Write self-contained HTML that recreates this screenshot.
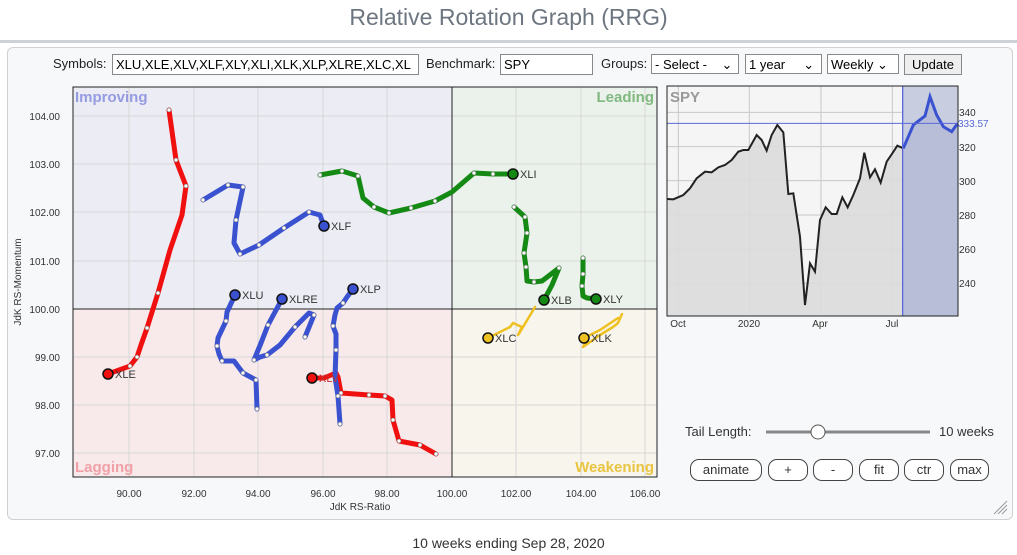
<!DOCTYPE html>
<html><head><style>
body{margin:0;width:1017px;height:555px;background:#fff;font-family:"Liberation Sans",sans-serif;overflow:hidden;position:relative}
.t{position:absolute;white-space:nowrap}
.inp{position:absolute;border:1px solid #888;background:#fff;font-size:13px;height:19px;line-height:19px;padding-left:3px;box-sizing:border-box;overflow:hidden;white-space:nowrap}
.btn{position:absolute;border:1px solid #444;border-radius:9px;background:#fff;font-size:13px;text-align:center;height:22px;line-height:20px;box-sizing:border-box;color:#333}
</style></head><body>
<div class="t" style="left:0;width:1017px;text-align:center;top:4px;font-size:23px;color:#6d7680">Relative Rotation Graph (RRG)</div>
<div style="position:absolute;left:0;top:40px;width:1017px;height:3px;background:#ccd2d8"></div>
<div style="position:absolute;left:7px;top:47px;width:1004px;height:471px;border:1px solid #d0d0d0;border-radius:6px;background:#f7f8f9"></div>
<div class="t" style="left:53px;top:56px;font-size:13px;color:#222">Symbols:</div>
<div class="inp" style="left:112px;top:54px;width:307px;height:21px">XLU,XLE,XLV,XLF,XLY,XLI,XLK,XLP,XLRE,XLC,XL</div>
<div class="t" style="left:426px;top:56px;font-size:13px;color:#222">Benchmark:</div>
<div class="inp" style="left:500px;top:54px;width:93px;height:21px">SPY</div>
<div class="t" style="left:601px;top:56px;font-size:13px;color:#222">Groups:</div>
<div class="inp" style="left:651px;top:54px;width:88px;height:20px">- Select -&nbsp;&nbsp;&nbsp;&nbsp;⌄</div>
<div class="inp" style="left:745px;top:54px;width:77px;height:20px">1 year&nbsp;&nbsp;&nbsp;&nbsp;&nbsp;⌄</div>
<div class="inp" style="left:827px;top:54px;width:72px;height:20px">Weekly ⌄</div>
<div class="inp" style="left:904px;top:54px;width:58px;height:21px;background:#eee;text-align:center;padding:0">Update</div>

<svg style="position:absolute;left:0;top:0" width="1017" height="555">
<rect x="73" y="87" width="379" height="222" fill="#ececf5"/>
<rect x="452" y="87" width="205" height="222" fill="#ebf2eb"/>
<rect x="73" y="309" width="379" height="168" fill="#f8eaea"/>
<rect x="452" y="309" width="205" height="168" fill="#f8f5ed"/>
<g stroke="#d8d8d8" stroke-width="1">
<line x1="129" y1="87" x2="129" y2="477"/><line x1="194" y1="87" x2="194" y2="477"/><line x1="258" y1="87" x2="258" y2="477"/><line x1="323" y1="87" x2="323" y2="477"/><line x1="387" y1="87" x2="387" y2="477"/><line x1="516" y1="87" x2="516" y2="477"/><line x1="581" y1="87" x2="581" y2="477"/><line x1="645" y1="87" x2="645" y2="477"/>
<line x1="73" y1="116" x2="657" y2="116"/><line x1="73" y1="164" x2="657" y2="164"/><line x1="73" y1="212" x2="657" y2="212"/><line x1="73" y1="261" x2="657" y2="261"/><line x1="73" y1="357" x2="657" y2="357"/><line x1="73" y1="405" x2="657" y2="405"/><line x1="73" y1="453" x2="657" y2="453"/>
</g>
<line x1="452" y1="87" x2="452" y2="477" stroke="#222"/>
<line x1="73" y1="309" x2="657" y2="309" stroke="#222"/>
<rect x="73" y="87" width="584" height="390" fill="none" stroke="#222"/>
<g font-size="15" font-weight="bold">
<text x="75" y="102" fill="#959be0">Improving</text>
<text x="654" y="102" fill="#80b880" text-anchor="end">Leading</text>
<text x="75" y="472" fill="#f0a0a6">Lagging</text>
<text x="654" y="472" fill="#e8c440" text-anchor="end">Weakening</text>
</g>
<g font-size="10" fill="#333" text-anchor="end">
<text x="60" y="120">104.00</text><text x="60" y="168">103.00</text><text x="60" y="216">102.00</text><text x="60" y="265">101.00</text><text x="60" y="313">100.00</text><text x="60" y="361">99.00</text><text x="60" y="409">98.00</text><text x="60" y="457">97.00</text>
</g>
<g font-size="10" fill="#333" text-anchor="middle">
<text x="129" y="497">90.00</text><text x="194" y="497">92.00</text><text x="258" y="497">94.00</text><text x="323" y="497">96.00</text><text x="387" y="497">98.00</text><text x="452" y="497">100.00</text><text x="516" y="497">102.00</text><text x="581" y="497">104.00</text><text x="645" y="497">106.00</text>
<text x="360" y="510">JdK RS-Ratio</text>
<text transform="translate(21,282) rotate(-90)">JdK RS-Momentum</text>
</g>
<g fill="none" stroke-linejoin="round" stroke-linecap="round">
<polyline stroke="#f01010" stroke-width="5" points="169,110 176,160 186,186 182,215 170,250 158,293 147,328 141,345 137,357 130,366 108,374"/>
<polyline stroke="#f01010" stroke-width="5" points="436,454 420,445 399,441 393,420 392,400 385,396 369,395 355,394 341,393 338,377 336,373 324,378 312,378"/>
<polyline stroke="#3a52d0" stroke-width="5" points="257,409 256,380 243,373 234,361 222,361 219,354 217,346 218,338 226,321 227,312 235,295"/>
<polyline stroke="#3a52d0" stroke-width="5" points="305,337 314,315 309,313 295,327 280,345 267,355 260,357 254,360 261,343 268,325 282,299"/>
<polyline stroke="#3a52d0" stroke-width="5" points="340,424 338,396 335,377 336,350 336,334 333,326 335,315 337,308 343,303 347,297 353,289"/>
<polyline stroke="#3a52d0" stroke-width="5" points="203,200 228,185 243,187 236,220 234,243 240,254 259,245 284,228 309,212 320,215 324,226"/>
<polyline stroke="#148a14" stroke-width="5" points="320,175 342,171 358,176 363,198 374,207 389,213 411,208 435,201 452,192 474,173 493,174 513,174"/>
<polyline stroke="#148a14" stroke-width="5" points="514,207 525,217 527,233 524,253 526,267 527,281 534,282 542,281 559,268 552,285 544,300"/>
<polyline stroke="#148a14" stroke-width="5" points="583,258 583,274 582,286 583,296 587,298 596,299"/>
<polyline stroke="#eec020" stroke-width="2.5" points="535,307 520,332 518,335 522,327 513,323 510,327 488,338"/>
<polyline stroke="#eec020" stroke-width="2.5" points="622,314 618,323 613,327 600,335 583,347 588,338 584,338 600,330 612,322 618,318"/>
</g>
<g fill="#fff" stroke="#666" stroke-width="0.5">
<circle cx="169" cy="110" r="2"/><circle cx="176" cy="160" r="2"/><circle cx="186" cy="186" r="2"/><circle cx="158" cy="293" r="2"/><circle cx="147" cy="328" r="2"/><circle cx="137" cy="357" r="2"/><circle cx="130" cy="366" r="2"/>
<circle cx="436" cy="454" r="2"/><circle cx="420" cy="445" r="2"/><circle cx="399" cy="441" r="2"/><circle cx="393" cy="420" r="2"/><circle cx="385" cy="396" r="2"/><circle cx="369" cy="395" r="2"/><circle cx="341" cy="393" r="2"/>
<circle cx="257" cy="409" r="2"/><circle cx="256" cy="380" r="2"/><circle cx="243" cy="373" r="2"/><circle cx="222" cy="361" r="2"/><circle cx="217" cy="346" r="2"/><circle cx="226" cy="321" r="2"/>
<circle cx="305" cy="337" r="2"/><circle cx="314" cy="315" r="2"/><circle cx="295" cy="327" r="2"/><circle cx="267" cy="355" r="2"/><circle cx="254" cy="360" r="2"/><circle cx="268" cy="325" r="2"/>
<circle cx="340" cy="424" r="2"/><circle cx="338" cy="396" r="2"/><circle cx="336" cy="350" r="2"/><circle cx="333" cy="326" r="2"/><circle cx="343" cy="303" r="2"/>
<circle cx="203" cy="200" r="2"/><circle cx="228" cy="185" r="2"/><circle cx="243" cy="187" r="2"/><circle cx="236" cy="220" r="2"/><circle cx="240" cy="254" r="2"/><circle cx="259" cy="245" r="2"/><circle cx="284" cy="228" r="2"/><circle cx="309" cy="212" r="2"/>
<circle cx="320" cy="175" r="2"/><circle cx="342" cy="171" r="2"/><circle cx="358" cy="176" r="2"/><circle cx="374" cy="207" r="2"/><circle cx="389" cy="213" r="2"/><circle cx="411" cy="208" r="2"/><circle cx="435" cy="201" r="2"/><circle cx="474" cy="173" r="2"/><circle cx="493" cy="174" r="2"/>
<circle cx="514" cy="207" r="2"/><circle cx="525" cy="217" r="2"/><circle cx="527" cy="233" r="2"/><circle cx="524" cy="253" r="2"/><circle cx="526" cy="267" r="2"/><circle cx="534" cy="282" r="2"/><circle cx="559" cy="268" r="2"/>
<circle cx="583" cy="258" r="2"/><circle cx="583" cy="274" r="2"/><circle cx="582" cy="286" r="2"/>
</g>
<g stroke="#111" stroke-width="1.5">
<circle cx="108" cy="374" r="5" fill="#f01010"/><circle cx="312" cy="378" r="5" fill="#f01010"/>
<circle cx="235" cy="295" r="5" fill="#3a52d0"/><circle cx="282" cy="299" r="5" fill="#3a52d0"/><circle cx="353" cy="289" r="5" fill="#3a52d0"/><circle cx="324" cy="226" r="5" fill="#3a52d0"/>
<circle cx="513" cy="174" r="5" fill="#148a14"/><circle cx="544" cy="300" r="5" fill="#148a14"/><circle cx="596" cy="299" r="5" fill="#148a14"/>
<circle cx="488" cy="338" r="5" fill="#eec020"/><circle cx="584" cy="338" r="5" fill="#eec020"/>
</g>
<g font-size="11" fill="#333">
<text x="115" y="378">XLE</text><text x="319" y="382" fill="#c03030">XLV</text><text x="242" y="299">XLU</text><text x="289" y="303">XLRE</text><text x="360" y="293">XLP</text><text x="331" y="230">XLF</text><text x="520" y="178">XLI</text><text x="551" y="304">XLB</text><text x="603" y="303">XLY</text><text x="495" y="342">XLC</text><text x="591" y="342">XLK</text>
</g>

<!-- SPY panel -->
<rect x="667" y="86" width="291" height="230" fill="#f5f5f5" stroke="#222"/>
<g transform="translate(660,80) scale(0.33333)">
<g stroke="#c8c8c8" stroke-width="3">
<line x1="55" y1="18" x2="55" y2="708"/><line x1="268" y1="18" x2="268" y2="708"/><line x1="483" y1="18" x2="483" y2="708"/><line x1="697" y1="18" x2="697" y2="708"/>
<line x1="22" y1="97" x2="893" y2="97"/><line x1="22" y1="200" x2="893" y2="200"/><line x1="22" y1="302" x2="893" y2="302"/><line x1="22" y1="405" x2="893" y2="405"/><line x1="22" y1="508" x2="893" y2="508"/><line x1="22" y1="610" x2="893" y2="610"/>
</g>
<rect x="728" y="18" width="165" height="690" fill="#c8cde0"/>
<polygon fill="#dcdcdc" fill-opacity="0.9" points="22,357 40,358 70,345 90,325 110,295 135,275 155,277 175,262 195,255 215,240 235,215 250,210 265,210 290,165 305,180 320,212 335,165 352,135 370,157 385,342 400,340 420,470 435,675 450,550 465,575 480,420 497,382 515,402 530,402 547,352 563,382 580,345 600,295 613,218 630,292 645,268 662,308 680,245 697,220 712,197 730,205 730,708 22,708"/>
<polygon fill="#b8bed8" points="730,205 760,135 795,108 810,50 830,105 850,140 875,155 893,130 893,708 730,708"/>
<polyline fill="none" stroke="#222" stroke-width="6" points="22,357 40,358 70,345 90,325 110,295 135,275 155,277 175,262 195,255 215,240 235,215 250,210 265,210 290,165 305,180 320,212 335,165 352,135 370,157 385,342 400,340 420,470 435,675 450,550 465,575 480,420 497,382 515,402 530,402 547,352 563,382 580,345 600,295 613,218 630,292 645,268 662,308 680,245 697,220 712,197 730,205"/>
<polyline fill="none" stroke="#3a52d0" stroke-width="9" points="730,205 760,135 795,108 810,50 830,105 850,140 875,155 893,130"/>
<line x1="22" y1="130" x2="893" y2="130" stroke="#5a6ad8" stroke-width="3"/>
<line x1="728" y1="18" x2="728" y2="708" stroke="#5a6ad8" stroke-width="4"/>
</g>
<rect x="667" y="86" width="291" height="230" fill="none" stroke="#222"/>
<text x="670" y="102" font-size="15" font-weight="bold" fill="#999">SPY</text>
<g font-size="10" fill="#333">
<text x="959" y="116">340</text><text x="959" y="151">320</text><text x="959" y="185">300</text><text x="959" y="219">280</text><text x="959" y="253">260</text><text x="959" y="287">240</text>
<text x="958" y="127" fill="#5a6ad8">333.57</text>
<text x="678" y="327" text-anchor="middle">Oct</text><text x="749" y="327" text-anchor="middle">2020</text><text x="820" y="327" text-anchor="middle">Apr</text><text x="892" y="327" text-anchor="middle">Jul</text>
</g>
<line x1="766" y1="432" x2="930" y2="432" stroke="#888" stroke-width="3"/>
<circle cx="818" cy="432" r="7" fill="#fff" stroke="#555"/>
<g stroke="#999" stroke-width="1"><line x1="994" y1="514" x2="1007" y2="501"/><line x1="998" y1="514" x2="1007" y2="505"/><line x1="1002" y1="514" x2="1007" y2="509"/></g>
</svg>
<div class="t" style="left:685px;top:424px;font-size:13px;color:#333">Tail Length:</div>
<div class="t" style="left:939px;top:424px;font-size:13px;color:#333">10 weeks</div>
<div class="btn" style="left:690px;top:459px;width:72px">animate</div>
<div class="btn" style="left:768px;top:459px;width:40px">+</div>
<div class="btn" style="left:813px;top:459px;width:40px">-</div>
<div class="btn" style="left:859px;top:459px;width:40px">fit</div>
<div class="btn" style="left:904px;top:459px;width:40px">ctr</div>
<div class="btn" style="left:950px;top:459px;width:39px">max</div>
<div class="t" style="left:0;width:1017px;text-align:center;top:535px;font-size:14px;color:#333">10 weeks ending Sep 28, 2020</div>
</body></html>
